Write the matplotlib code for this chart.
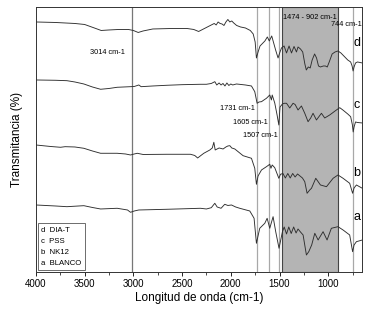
"""
Espectros FTIR - BLANCO, NK12, PSS, DIA-T
"""

import matplotlib
matplotlib.use('Agg')
import matplotlib.pyplot as plt
from matplotlib.ticker import MultipleLocator

plt.rcParams['font.family'] = ['Liberation Sans', 'DejaVu Sans']

# Curvas (numero de onda, transmitancia desplazada)
wn_d = [4000, 3800, 3600, 3500, 3400, 3330, 3250, 3150, 3050, 3000, 2950, 2900, 2800, 2600,
        2450, 2380, 2330, 2280, 2240, 2200, 2170, 2150, 2130, 2110, 2090, 2070, 2050, 2030,
        2010, 1990, 1970, 1940, 1900, 1850, 1800, 1770, 1750, 1737, 1720, 1700, 1670, 1650,
        1625, 1605, 1580, 1560, 1540, 1515, 1495, 1480, 1453, 1428, 1402, 1377, 1351, 1326,
        1310, 1285, 1262, 1240, 1225, 1205, 1185, 1165, 1140, 1120, 1100,
        1080, 1050, 1030, 1010, 990, 960, 930, 900, 870, 840, 800, 770, 755, 745, 735, 720,
        700, 650]
t_d = [250, 249.5, 248.5, 247.5, 244, 241.5, 242, 242.5, 242.5, 241.5, 239.5, 241, 243, 243.5,
       243.5, 242.5, 240.5, 243, 245, 247, 248.5, 247, 250, 248.5, 248, 246.5, 250, 252.5,
       250, 251, 249, 246.5, 245, 244, 241.5, 238, 230, 214, 220, 226, 229, 231,
       235, 231, 236, 229, 222, 214, 220, 224, 226, 219, 226, 219, 225.5, 220,
       225, 223, 220, 208, 202, 205, 204, 212, 218, 214, 206,
       205, 206, 206, 205, 210, 218, 220, 221, 219, 216, 212, 210, 206, 201, 205, 209,
       210, 209]

wn_c = [4000, 3800, 3682, 3600, 3508, 3420, 3336, 3250, 3166, 3029, 2990, 2944, 2920, 2800,
        2656, 2500, 2311, 2250, 2200, 2164, 2144, 2120, 2100, 2080, 2060, 2040, 2020, 2000,
        1980, 1942, 1850, 1788, 1754, 1730, 1710, 1685, 1660, 1634, 1600, 1583, 1575, 1549,
        1525, 1507, 1495, 1470, 1450, 1428, 1395, 1361, 1340, 1310, 1275, 1241, 1207, 1180,
        1156, 1121, 1070, 1036, 985, 916, 882, 850, 800, 770, 752, 744, 735, 720, 700, 650]
t_c = [192, 191.7, 191.3, 190, 188, 185, 182.7, 183.5, 184.7, 185.3, 185.5, 187, 185.3, 186,
       186.7, 187.3, 187.7, 187.7, 188.5, 190.3, 187, 189, 187, 188.5, 186, 189, 186.5, 188,
       187, 188, 187, 186, 180.3, 168.7, 170, 170.3, 172, 173.7, 177, 172, 177, 169,
       157, 147, 165, 168, 168.7, 168.7, 164, 168.7, 167.5, 162, 166, 158.7, 150.3, 154,
       158.7, 152, 158.7, 154, 157, 162, 164.3, 162, 158, 155.3, 147, 140, 145, 150, 149.5, 149]

wn_b = [4000, 3850, 3747, 3700, 3600, 3508, 3420, 3336, 3166, 3080, 3029, 2990, 2960, 2900,
        2656, 2413, 2370, 2340, 2300, 2277, 2215, 2190, 2174, 2160, 2120, 2079, 2050, 2030,
        2010, 1990, 1959, 1874, 1788, 1754, 1737, 1720, 1685, 1634, 1600, 1588, 1575, 1549,
        1507, 1490, 1465, 1440, 1415, 1390, 1365, 1340, 1315, 1290, 1265, 1241, 1217,
        1190, 1172, 1128, 1080, 1018, 950, 900, 848, 780, 750, 735, 711, 650]
t_b = [127, 125.5, 124.7, 125.3, 125, 123.7, 121, 118.7, 118.7, 118, 117, 118, 118.7, 117.5,
       117.7, 117.7, 116.5, 114, 117, 118.7, 122, 124, 129.7, 122, 124, 123, 125, 126,
       126.3, 124, 123, 116.3, 113.7, 103.7, 87.7, 96, 102, 105.3, 107.7, 103.7, 107, 104.3,
       93.7, 97.7, 98.5, 94, 98.5, 94, 98.5, 95, 98, 96, 94, 90.3, 78.7,
       82, 83.7, 93.7, 87, 85.3, 93.7, 97, 93.7, 88.7, 78.7, 84, 87, 83.7]

wn_a = [4000, 3800, 3682, 3508, 3420, 3336, 3166, 3060, 3029, 2990, 2944, 2656, 2311, 2250,
        2200, 2164, 2140, 2100, 2062, 2030, 1993, 1950, 1908, 1805, 1761, 1737, 1703, 1651,
        1627, 1600, 1566, 1539, 1505, 1470, 1452, 1428, 1405, 1380, 1355, 1330,
        1310, 1285, 1258, 1224, 1200, 1170, 1138, 1104, 1053, 1012, 968, 900, 848, 780, 750,
        735, 711, 650]
t_a = [67, 66, 65.3, 66.3, 64.5, 63, 63.7, 62, 59.7, 61, 62, 62.7, 63.7, 63,
       64.3, 68.7, 65, 63.7, 67.7, 66.5, 67, 65, 63.7, 61, 53.7, 28.7, 43.7, 48.7,
       53.7, 43.7, 55.3, 40.3, 23.7, 40.3, 45, 38, 45, 38.5, 45, 39,
       43, 40, 37, 17, 20.3, 27, 38.7, 32, 40.3, 32, 43.7, 45.3, 42, 37, 20.3,
       27, 30.3, 32]

# Bandas marcadas
band_lines = [3014, 1731, 1605, 1507, 744]
band_region = (1474, 902)

series = [('d', 'DIA-T', wn_d, t_d), ('c', 'PSS', wn_c, t_c),
          ('b', 'NK12', wn_b, t_b), ('a', 'BLANCO', wn_a, t_a)]
letter_y = {'d': 229, 'c': 167, 'b': 99, 'a': 55}

fig = plt.figure(figsize=(3.70, 3.17), dpi=100)
ax = fig.add_axes([0.097, 0.142, 0.881, 0.836])

# Region sombreada
ax.axvspan(band_region[0], band_region[1], facecolor='#b4b4b4', edgecolor='#444444',
           linewidth=0.8, zorder=1)

# Lineas verticales
for wn in band_lines:
    col = '#777777' if wn == 3014 else '#a8a8a8'
    ax.axvline(wn, color=col, linewidth=0.9, zorder=1)

# Espectros
for letter, name, wn, t in series:
    ax.plot(wn, t, color='#2e2e2e', linewidth=0.65, zorder=3)
    ax.text(708, letter_y[letter], letter, fontsize=9, ha='center', va='center', zorder=4)

# Etiquetas de bandas
ax.text(3262, 219, '3014 cm-1', fontsize=5.3, ha='center', va='center')
ax.text(1754, 163, '1731 cm-1', fontsize=5.3, ha='right', va='center')
ax.text(1621, 149.5, '1605 cm-1', fontsize=5.3, ha='right', va='center')
ax.text(1518, 136, '1507 cm-1', fontsize=5.3, ha='right', va='center')
ax.text(1467, 254.7, '1474 - 902 cm-1', fontsize=5.3, ha='left', va='center')
ax.text(660, 247, '744 cm-1', fontsize=5.3, ha='right', va='center')

# Leyenda (solo texto)
handles = [plt.Line2D([], [], linestyle='none') for _ in series]
labels = [f'{letter}  {name}' for letter, name, _, _ in series]
leg = ax.legend(handles, labels, loc='lower left', fontsize=5.6, handlelength=0,
                handletextpad=0, labelspacing=0.45, borderpad=0.45, fancybox=False,
                framealpha=1, edgecolor='#555555', borderaxespad=0.25)
leg.get_frame().set_linewidth(0.6)

ax.set_xlim(4000, 655)
ax.set_ylim(0, 265)
ax.set_yticks([])
ax.xaxis.set_major_locator(MultipleLocator(500))
ax.xaxis.set_minor_locator(MultipleLocator(250))
ax.tick_params(axis='x', which='major', direction='out', length=3, width=0.6,
               labelsize=7, pad=2)
ax.tick_params(axis='x', which='minor', direction='out', length=1.8, width=0.5)
for sp in ax.spines.values():
    sp.set_linewidth(0.7)
    sp.set_color('#333333')

ax.set_xlabel('Longitud de onda (cm-1)', fontsize=8.5, labelpad=2)
ax.set_ylabel('Transmitancia (%)', fontsize=8.5, labelpad=9)

plt.savefig('out.png', dpi=100)
